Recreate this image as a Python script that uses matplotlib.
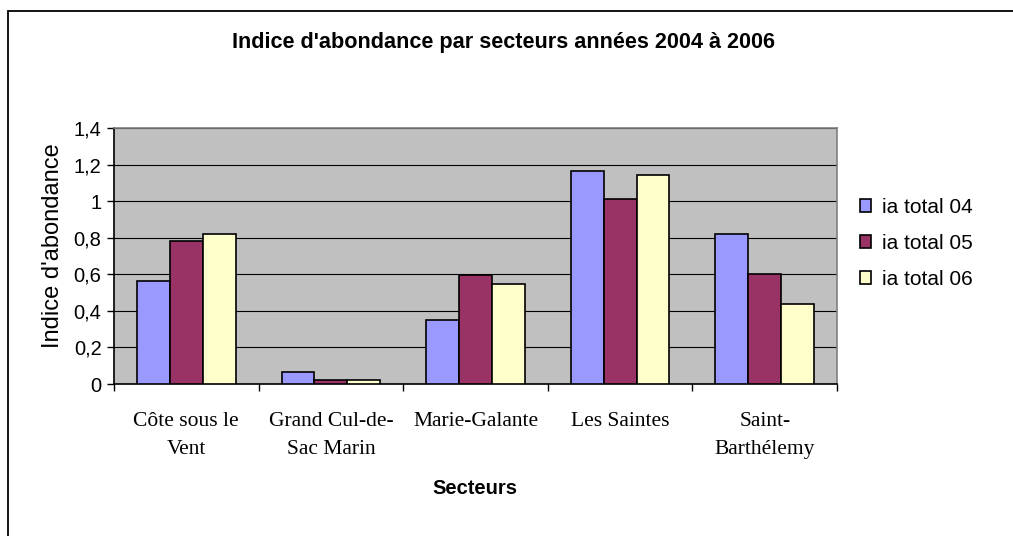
import matplotlib
matplotlib.use("Agg")
import matplotlib.pyplot as plt
import numpy as np
from matplotlib.patches import Rectangle

secteurs = ["Côte sous le\nVent", "Grand Cul-de-\nSac Marin", "Marie-Galante",
            "Les Saintes", "Saint-\nBarthélemy"]
ia_04 = [0.565, 0.064, 0.348, 1.165, 0.82]
ia_05 = [0.784, 0.02, 0.598, 1.012, 0.603]
ia_06 = [0.82, 0.02, 0.547, 1.143, 0.436]
series_names = ["ia total 04", "ia total 05", "ia total 06"]
y_ticks = [0, 0.2, 0.4, 0.6, 0.8, 1.0, 1.2, 1.4]
y_labels = ["0", "0,2", "0,4", "0,6", "0,8", "1", "1,2", "1,4"]

colors = ["#9999FF", "#993366", "#FFFFCC"]
W, H = 1013, 536

fig = plt.figure(figsize=(W / 100, H / 100), dpi=100)
ax = fig.add_axes([114 / W, 1 - 384 / H, 723 / W, 256 / H])
ax.set_facecolor("#C0C0C0")

x = np.arange(len(secteurs))
bw = 0.2275
bars = []
for j, vals in enumerate([ia_04, ia_05, ia_06]):
    b = ax.bar(x + (j - 1) * bw, vals, bw, color=colors[j], edgecolor="black",
               linewidth=1.2, label=series_names[j], zorder=3)
    bars.append(b)

ax.set_xlim(-0.5, len(secteurs) - 0.5)
ax.set_ylim(0, 1.4)
ax.set_yticks(y_ticks)
ax.set_yticklabels(y_labels, fontfamily="Liberation Sans", fontsize=14.5)
ax.yaxis.grid(True, color="black", linewidth=0.8, zorder=1)
ax.set_axisbelow(True)

# category boundaries get the tick marks, names sit between them
ax.set_xticks(np.arange(-0.5, len(secteurs)), [])
ax.set_xticks(x, secteurs, minor=True, fontfamily="Liberation Serif",
              fontsize=15.5, linespacing=1.65)
ax.tick_params(axis="x", which="major", direction="out", length=5, width=1)
ax.tick_params(axis="x", which="minor", length=0, pad=20)
ax.tick_params(axis="y", direction="out", length=5, width=1, pad=4)

for s in ["left", "bottom"]:
    ax.spines[s].set_color("black")
    ax.spines[s].set_linewidth(1.2)
for s in ["top", "right"]:
    ax.spines[s].set_color("#808080")
    ax.spines[s].set_linewidth(1.2)

fig.text(503 / W, 1 - 42 / H, "Indice d'abondance par secteurs années 2004 à 2006",
         ha="center", va="center", fontfamily="Liberation Sans",
         fontweight="bold", fontsize=15.6)
fig.text(53 / W, 1 - 246 / H, "Indice d'abondance", rotation=90,
         ha="center", va="center", fontfamily="Liberation Sans", fontsize=17)
fig.text(475 / W, 1 - 488 / H, "Secteurs", ha="center", va="center",
         fontfamily="Liberation Sans", fontweight="bold", fontsize=14.5)

fig.legend(handles=bars, labels=series_names, loc="center left",
           bbox_to_anchor=(860 / W, 1 - 243.5 / H), frameon=False,
           prop={"family": "Liberation Sans", "size": 15},
           handlelength=0.55, handleheight=0.55, handletextpad=0.5,
           labelspacing=0.82, borderpad=0, borderaxespad=0)

# outer chart frame
fig.patches.append(Rectangle((8 / W, -0.1), 1.2, 1 - 11 / H + 0.1,
                             transform=fig.transFigure, fill=False,
                             edgecolor="black", linewidth=1.3))

fig.savefig("out.png", dpi=100)
